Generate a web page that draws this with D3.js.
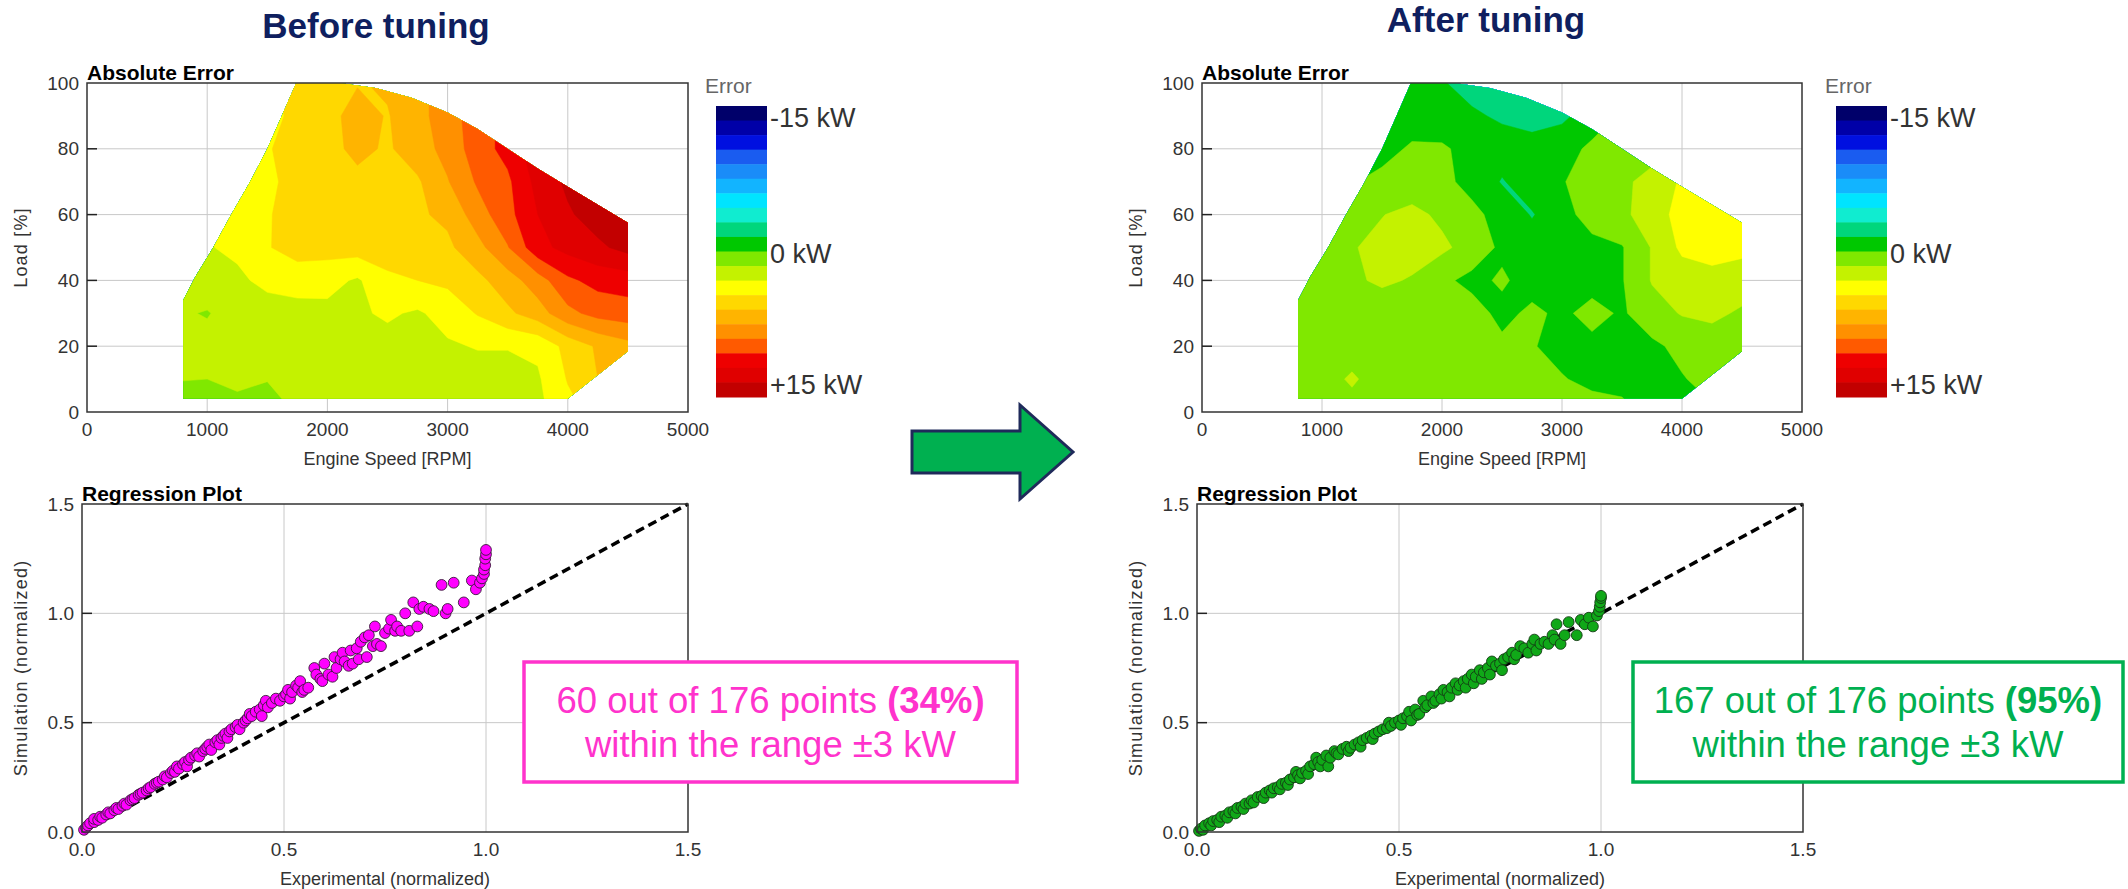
<!DOCTYPE html>
<html>
<head>
<meta charset="utf-8">
<script src="https://cdn.jsdelivr.net/npm/d3@7"></script>
<style>
  body { margin: 0; background: #fff; }
  svg { display: block; }
  text { font-family: "Liberation Sans", Arial, sans-serif; }
</style>
</head>
<body>
<svg width="2128" height="889"></svg>
<script>
// ---- data ----
const rpmGrid = [750, 1000, 1250, 1500, 1750, 2000, 2250, 2500, 2750, 3000, 3250, 3500, 3750, 4000, 4250, 4500];
const loadGrid = [0, 10, 20, 30, 40, 50, 60, 70, 80, 90, 100];

// error [kW], one row per load value, one column per rpm value
const errBefore = [
  [0.8, 0.9, 1.0, 0.9, 1.6, 2.0, 2.0, 2.1, 2.1, 2.2, 2.2, 2.3, 2.6, 4.0, 5.0, 6.0],
  [1.55, 1.5, 1.8, 1.55, 1.9, 2.0, 2.1, 2.2, 2.2, 2.3, 2.3, 2.3, 2.8, 4.6, 6.0, 7.0],
  [2.0, 2.0, 2.1, 2.2, 2.2, 2.3, 2.4, 2.5, 2.6, 2.8, 3.1, 3.1, 3.3, 5.0, 6.2, 7.0],
  [1.7, 1.4, 2.2, 2.3, 2.4, 2.6, 2.8, 3.2, 2.8, 3.6, 4.6, 5.7, 6.8, 8.6, 9.5, 9.8],
  [2.0, 2.4, 2.7, 3.4, 3.7, 3.5, 2.8, 4.2, 4.5, 4.8, 5.6, 6.8, 8.3, 10.2, 11.0, 11.2],
  [2.6, 2.9, 3.3, 4.4, 5.1, 5.1, 5.2, 5.2, 5.4, 5.7, 7.0, 8.9, 11.5, 12.5, 13.2, 14.0],
  [2.6, 3.2, 3.8, 4.4, 5.0, 5.2, 5.3, 5.4, 5.8, 6.3, 8.3, 10.0, 12.0, 13.3, 14.2, 14.5],
  [2.3, 2.8, 3.6, 4.2, 5.0, 5.2, 5.6, 5.5, 5.8, 7.4, 9.2, 10.2, 12.5, 13.8, 14.5, 14.8],
  [2.4, 2.8, 3.4, 4.4, 5.0, 5.5, 6.4, 5.8, 6.8, 8.0, 9.8, 11.0, 13.0, 14.0, 14.5, 14.8],
  [2.4, 2.8, 3.2, 4.0, 4.9, 5.5, 6.6, 5.9, 7.0, 8.3, 9.8, 11.0, 12.5, 13.5, 14.0, 14.5],
  [2.4, 2.8, 3.4, 4.2, 4.9, 5.3, 5.9, 6.2, 7.0, 8.3, 9.8, 11.0, 12.5, 13.5, 14.0, 14.5]
];
const errAfter = [
  [0.7, 0.8, 0.9, 0.8, 0.7, 0.6, 0.5, 0.5, 0.5, 0.6, 0.7, 0.5, -0.5, -0.6, -0.2, 0.2],
  [0.7, 0.9, 1.7, 0.8, 0.6, 0.5, 0.4, 0.3, 0.3, 0.1, -0.4, -0.6, -0.4, -0.1, 0.5, 0.7],
  [1.6, 0.9, 0.8, 0.7, 0.6, 0.6, 0.5, 0.3, 0.1, -0.5, -0.4, -0.6, -0.3, 0.4, 0.8, 0.9],
  [0.8, 0.9, 0.9, 0.8, 0.8, 0.8, 0.6, -0.4, 0.3, -0.3, 0.5, -0.2, 0.9, 1.6, 1.8, 1.3],
  [0.8, 1.0, 1.3, 1.7, 1.4, 0.3, -0.4, 0.2, -0.6, -0.8, -0.6, -0.1, 1.6, 2.2, 2.5, 2.2],
  [0.7, 1.0, 1.4, 1.9, 2.0, 1.8, 0.9, -0.3, -0.8, -0.8, -0.5, -0.1, 1.6, 3.3, 3.6, 3.4],
  [0.6, 0.8, 1.2, 1.45, 1.9, 1.2, 0.4, -0.6, -1.6, -0.6, 0.7, 1.2, 2.2, 3.6, 3.9, 3.6],
  [-0.3, -0.2, -0.1, 0.4, 0.6, 0.4, -0.5, -1.6, -0.8, -0.1, 0.7, 1.2, 2.0, 3.2, 3.8, 3.6],
  [-0.5, -0.4, -0.4, -0.5, 0.2, 0.2, -0.5, -0.9, -1.0, -0.6, 0.3, 0.6, 0.9, 1.8, 2.5, 2.8],
  [-0.6, -0.6, -0.6, -0.6, -0.7, -0.9, -1.3, -1.7, -2.0, -1.8, -0.8, 0.2, 0.6, 1.2, 2.0, 2.5],
  [-0.6, -0.6, -0.6, -0.7, -0.9, -1.4, -2.0, -2.2, -2.2, -2.0, -1.2, -0.3, 0.3, 1.0, 1.8, 2.3]
];

// measured operating range [rpm, load]
const envelope = [
  [800, 4], [800, 34], [900, 41], [1050, 50], [1200, 60], [1350, 69.5], [1500, 80],
  [1620, 90], [1740, 100], [2100, 100], [2400, 98.5], [2700, 95.5], [3000, 91],
  [3250, 86], [3500, 80], [3750, 74], [4000, 68.5], [4250, 63], [4500, 57.5],
  [4500, 18.5], [4000, 4]
];

const bandEdges = [-15, -13.5, -12, -10.5, -9, -7.5, -6, -4.5, -3, -1.5, 0, 1.5, 3, 4.5, 6, 7.5, 9, 10.5, 12, 13.5];
const bandColors = ['#00006a', '#0000a8', '#0010e0', '#1a5cf0', '#1a8cf8', '#12b4ff', '#00e4ff', '#10ecd0', '#00d67c', '#00c800',
                    '#80e800', '#c4f200', '#ffff00', '#ffd800', '#ffb400', '#ff9000', '#ff5a00', '#ee0000', '#e00000', '#c20000'];
const barLabels = [[-15, '-15 kW'], [0, '0 kW'], [15, '+15 kW']];

const speedTicks = [0, 1000, 2000, 3000, 4000, 5000];
const loadTicks = [0, 20, 40, 60, 80, 100];
const normTicks = [0, 0.5, 1.0, 1.5];

// regression points [experimental, simulation]
const regBefore = [
  [0.005,0.01],[0.01,0.02],[0.015,0.03],[0.02,0.04],[0.03,0.045],[0.03,0.06],[0.04,0.055],[0.045,0.07],[0.05,0.065],[0.06,0.08],
  [0.065,0.09],[0.07,0.085],[0.08,0.1],[0.085,0.11],[0.09,0.105],[0.1,0.12],[0.105,0.13],[0.11,0.125],[0.12,0.145],[0.125,0.15],
  [0.13,0.155],[0.14,0.17],[0.145,0.175],[0.15,0.18],[0.16,0.19],[0.165,0.2],[0.17,0.205],[0.18,0.22],[0.185,0.225],[0.19,0.23],
  [0.2,0.24],[0.205,0.255],[0.21,0.25],[0.22,0.27],[0.225,0.28],[0.23,0.275],[0.235,0.3],[0.24,0.29],[0.25,0.31],[0.255,0.32],
  [0.26,0.3],[0.265,0.33],[0.27,0.34],[0.28,0.35],[0.285,0.36],[0.29,0.345],[0.3,0.37],[0.305,0.38],[0.31,0.39],[0.315,0.4],
  [0.32,0.375],[0.33,0.41],[0.335,0.42],[0.34,0.4],[0.345,0.43],[0.35,0.44],[0.355,0.45],[0.36,0.43],[0.365,0.46],[0.37,0.47],
  [0.38,0.48],[0.385,0.49],[0.39,0.47],[0.4,0.5],[0.405,0.51],[0.41,0.52],[0.415,0.54],[0.42,0.53],[0.43,0.55],[0.44,0.56],
  [0.445,0.53],[0.45,0.58],[0.455,0.6],[0.46,0.57],[0.47,0.59],[0.48,0.61],[0.49,0.6],[0.5,0.62],[0.505,0.63],[0.51,0.65],
  [0.515,0.61],[0.52,0.64],[0.53,0.67],[0.535,0.66],[0.54,0.69],[0.545,0.64],[0.55,0.65],[0.56,0.66],[0.575,0.75],[0.58,0.72],
  [0.59,0.7],[0.595,0.69],[0.6,0.77],[0.61,0.72],[0.62,0.71],[0.625,0.8],[0.63,0.75],[0.64,0.79],[0.645,0.82],[0.65,0.78],
  [0.66,0.76],[0.665,0.83],[0.67,0.77],[0.68,0.84],[0.685,0.79],[0.69,0.87],[0.7,0.89],[0.705,0.8],[0.71,0.9],[0.72,0.85],
  [0.725,0.94],[0.73,0.86],[0.74,0.85],[0.75,0.91],[0.76,0.93],[0.765,0.97],[0.775,0.92],[0.78,0.94],[0.79,0.92],[0.8,1.0],
  [0.81,0.92],[0.82,1.05],[0.83,0.94],[0.835,1.02],[0.845,1.03],[0.86,1.02],[0.87,1.01],[0.89,1.13],[0.9,1.0],[0.905,1.02],
  [0.92,1.14],[0.945,1.05],[0.965,1.15],[0.975,1.11],[0.985,1.14],[0.99,1.16],[0.995,1.18],[0.995,1.2],[0.998,1.22],[0.998,1.25],
  [1.0,1.27],[1.0,1.29]
];
const regAfter = [
  [0.005,0.005],[0.01,0.015],[0.015,0.01],[0.02,0.03],[0.03,0.04],[0.035,0.03],[0.04,0.05],[0.05,0.055],[0.055,0.045],[0.06,0.07],
  [0.07,0.075],[0.075,0.065],[0.08,0.09],[0.09,0.095],[0.095,0.085],[0.1,0.11],[0.11,0.115],[0.115,0.105],[0.12,0.13],[0.13,0.13],
  [0.135,0.145],[0.14,0.135],[0.15,0.16],[0.16,0.165],[0.165,0.155],[0.17,0.18],[0.18,0.19],[0.185,0.18],[0.19,0.2],[0.2,0.205],
  [0.205,0.195],[0.21,0.22],[0.22,0.225],[0.225,0.215],[0.23,0.24],[0.24,0.25],[0.245,0.275],[0.25,0.26],[0.255,0.245],[0.26,0.27],
  [0.27,0.28],[0.275,0.265],[0.28,0.3],[0.29,0.31],[0.295,0.34],[0.3,0.32],[0.305,0.3],[0.31,0.33],[0.32,0.35],[0.325,0.3],
  [0.33,0.34],[0.34,0.37],[0.345,0.36],[0.35,0.355],[0.36,0.38],[0.37,0.39],[0.375,0.37],[0.38,0.385],[0.39,0.4],[0.4,0.41],
  [0.405,0.39],[0.41,0.42],[0.42,0.43],[0.43,0.44],[0.435,0.425],[0.44,0.45],[0.45,0.46],[0.46,0.47],[0.47,0.475],[0.475,0.5],
  [0.48,0.485],[0.49,0.5],[0.5,0.51],[0.505,0.49],[0.51,0.52],[0.52,0.53],[0.525,0.55],[0.53,0.51],[0.54,0.56],[0.545,0.535],
  [0.55,0.54],[0.56,0.6],[0.565,0.57],[0.57,0.58],[0.58,0.62],[0.585,0.59],[0.59,0.6],[0.6,0.63],[0.605,0.61],[0.61,0.65],
  [0.62,0.64],[0.625,0.62],[0.63,0.66],[0.64,0.68],[0.645,0.65],[0.65,0.67],[0.66,0.69],[0.665,0.66],[0.67,0.7],[0.68,0.72],
  [0.685,0.68],[0.69,0.71],[0.7,0.74],[0.705,0.7],[0.71,0.73],[0.72,0.75],[0.725,0.72],[0.73,0.78],[0.74,0.76],[0.75,0.77],
  [0.755,0.74],[0.76,0.79],[0.77,0.8],[0.78,0.82],[0.785,0.79],[0.79,0.81],[0.8,0.85],[0.81,0.84],[0.82,0.82],[0.83,0.86],
  [0.835,0.88],[0.84,0.83],[0.85,0.86],[0.86,0.87],[0.87,0.86],[0.88,0.9],[0.885,0.88],[0.89,0.95],[0.9,0.86],[0.91,0.9],
  [0.92,0.96],[0.94,0.9],[0.95,0.97],[0.96,0.95],[0.97,0.98],[0.98,0.94],[0.99,0.99],[0.995,1.01],[0.997,1.03],[0.998,1.05],
  [1.0,1.07],[1.0,1.08]
];

// ---- drawing ----
const svg = d3.select("svg");

svg.append("text").attr("x", 376).attr("y", 38).attr("text-anchor", "middle")
  .attr("font-size", 35).attr("font-weight", "bold").attr("fill", "#0f1f5f").text("Before tuning");
svg.append("text").attr("x", 1486).attr("y", 32).attr("text-anchor", "middle")
  .attr("font-size", 35).attr("font-weight", "bold").attr("fill", "#0f1f5f").text("After tuning");

function grid(g, w, h, x, y, xTicks, yTicks) {
  g.selectAll(".gx").data(xTicks.slice(1, -1)).enter().append("line")
    .attr("x1", d => x(d)).attr("x2", d => x(d)).attr("y1", 0).attr("y2", h)
    .attr("stroke", "#c8c8c8").attr("stroke-width", 1);
  g.selectAll(".gy").data(yTicks.slice(1, -1)).enter().append("line")
    .attr("y1", d => y(d)).attr("y2", d => y(d)).attr("x1", 0).attr("x2", w)
    .attr("stroke", "#c8c8c8").attr("stroke-width", 1);
}

function axesOver(g, w, h, x, y, xTicks, yTicks, fmt, title, xTitle, yTitle, yTitleX) {
  g.append("rect").attr("width", w).attr("height", h).attr("fill", "none")
    .attr("stroke", "#333").attr("stroke-width", 1.5);
  g.selectAll(".ty").data(yTicks.slice(1, -1)).enter().append("line")
    .attr("x1", 0).attr("x2", 10).attr("y1", d => y(d)).attr("y2", d => y(d))
    .attr("stroke", "#222").attr("stroke-width", 1.5);
  g.selectAll(".ly").data(yTicks).enter().append("text")
    .attr("x", -8).attr("y", d => y(d)).attr("dy", "0.35em").attr("text-anchor", "end")
    .attr("font-size", 19).attr("fill", "#333").text(fmt);
  g.selectAll(".lx").data(xTicks).enter().append("text")
    .attr("x", d => x(d)).attr("y", h + 17).attr("dy", "0.35em").attr("text-anchor", "middle")
    .attr("font-size", 19).attr("fill", "#333").text(fmt);
  g.append("text").attr("x", 0).attr("y", -3).attr("font-size", 21).attr("font-weight", "bold")
    .attr("fill", "#000").text(title);
  g.append("text").attr("x", w / 2).attr("y", h + 53).attr("text-anchor", "middle")
    .attr("font-size", 18).attr("fill", "#333").text(xTitle);
  g.append("text").attr("transform", `translate(${yTitleX},${h / 2}) rotate(-90)`)
    .attr("text-anchor", "middle").attr("font-size", 18).attr("letter-spacing", 1.2)
    .attr("fill", "#333").text(yTitle);
}

function contourPanel(left, top, w, h, values, clipId, barOffset) {
  const g = svg.append("g").attr("transform", `translate(${left},${top})`);
  const x = d3.scaleLinear().domain([0, 5000]).range([0, w]);
  const y = d3.scaleLinear().domain([0, 100]).range([h, 0]);
  grid(g, w, h, x, y, speedTicks, loadTicks);

  g.append("clipPath").attr("id", clipId).append("path")
    .attr("d", d3.line().x(d => x(d[0])).y(d => y(d[1]))(envelope) + "Z");

  const nx = rpmGrid.length, ny = loadGrid.length;
  const dr = rpmGrid[1] - rpmGrid[0], dl = loadGrid[1] - loadGrid[0];
  const proj = d3.geoTransform({
    point: function(px, py) {
      this.stream.point(x(rpmGrid[0] + (px - 0.5) * dr), y(loadGrid[0] + (py - 0.5) * dl));
    }
  });
  const path = d3.geoPath(proj);
  const contours = d3.contours().size([nx, ny]).thresholds(bandEdges)(values.flat());

  g.append("g").attr("clip-path", `url(#${clipId})`)
    .selectAll("path").data(contours).enter().append("path")
    .attr("d", path)
    .attr("fill", d => bandColors[bandEdges.indexOf(d.value)])
    .attr("stroke", d => bandColors[bandEdges.indexOf(d.value)])
    .attr("stroke-width", 0.5);

  axesOver(g, w, h, x, y, speedTicks, loadTicks, d => d, "Absolute Error", "Engine Speed [RPM]", "Load [%]", -60);

  // colour bar
  const bx = barOffset, bw = 51;
  const by = d3.scaleLinear().domain([-15, 15]).range([106 - top, 397 - top]);
  const cb = g.append("g");
  cb.append("text").attr("x", bx - 11).attr("y", by(-15) - 13).attr("font-size", 21)
    .attr("fill", "#666").text("Error");
  cb.selectAll("rect").data(bandEdges).enter().append("rect")
    .attr("x", bx).attr("width", bw)
    .attr("y", d => by(d)).attr("height", d => by(d + 1.5) - by(d) + 0.5)
    .attr("fill", (d, i) => bandColors[i]);
  cb.selectAll(".bl").data(barLabels).enter().append("text")
    .attr("x", bx + bw + 3)
    .attr("y", d => d[0] === -15 ? by(-15) + 12 : d[0] === 15 ? by(15) - 12 : by(0) + 2)
    .attr("dy", "0.35em").attr("font-size", 27).attr("fill", "#333").text(d => d[1]);
}

function regressionPanel(left, top, w, h, pts, fillC, strokeC) {
  const g = svg.append("g").attr("transform", `translate(${left},${top})`);
  const x = d3.scaleLinear().domain([0, 1.5]).range([0, w]);
  const y = d3.scaleLinear().domain([0, 1.5]).range([h, 0]);
  grid(g, w, h, x, y, normTicks, normTicks);
  g.append("line").attr("x1", x(0)).attr("y1", y(0)).attr("x2", x(1.5)).attr("y2", y(1.5))
    .attr("stroke", "#000").attr("stroke-width", 3.5).attr("stroke-dasharray", "9,5");
  g.selectAll("circle").data(pts).enter().append("circle")
    .attr("cx", d => x(d[0])).attr("cy", d => y(d[1])).attr("r", 5.4)
    .attr("fill", fillC).attr("stroke", strokeC).attr("stroke-width", 0.9);
  axesOver(g, w, h, x, y, normTicks, normTicks, d3.format(".1f"), "Regression Plot",
    "Experimental (normalized)", "Simulation (normalized)", -55);
}

contourPanel(87, 83, 601, 329, errBefore, "envB", 629);
contourPanel(1202, 83, 600, 329, errAfter, "envA", 634);
regressionPanel(82, 504, 606, 328, regBefore, "#ff00ff", "#3a1a3a");
regressionPanel(1197, 504, 606, 328, regAfter, "#10a818", "#143a14");

// callout boxes
function callout(x0, x1, y0, y1, color, lead, bold) {
  svg.append("rect").attr("x", x0).attr("y", y0).attr("width", x1 - x0).attr("height", y1 - y0)
    .attr("fill", "#fff").attr("stroke", color).attr("stroke-width", 3.5);
  const cx = (x0 + x1) / 2, cy = (y0 + y1) / 2;
  const t1 = svg.append("text").attr("x", cx).attr("y", cy - 9).attr("text-anchor", "middle")
    .attr("font-size", 36.5).attr("fill", color);
  t1.append("tspan").text(lead + " ");
  t1.append("tspan").attr("font-weight", "bold").text(bold);
  svg.append("text").attr("x", cx).attr("y", cy + 35).attr("text-anchor", "middle")
    .attr("font-size", 36.5).attr("fill", color).text("within the range \u00b13 kW");
}
callout(524, 1017, 662, 782, "#ff33cc", "60 out of 176 points", "(34%)");
callout(1633, 2123, 662, 782, "#00b050", "167 out of 176 points", "(95%)");

// arrow
svg.append("path")
  .attr("d", "M912,431 L1020,431 L1020,405 L1073,452 L1020,499 L1020,473 L912,473 Z")
  .attr("fill", "#00b050").attr("stroke", "#1f2a5a").attr("stroke-width", 3)
  .attr("stroke-linejoin", "miter");
</script>
</body>
</html>
